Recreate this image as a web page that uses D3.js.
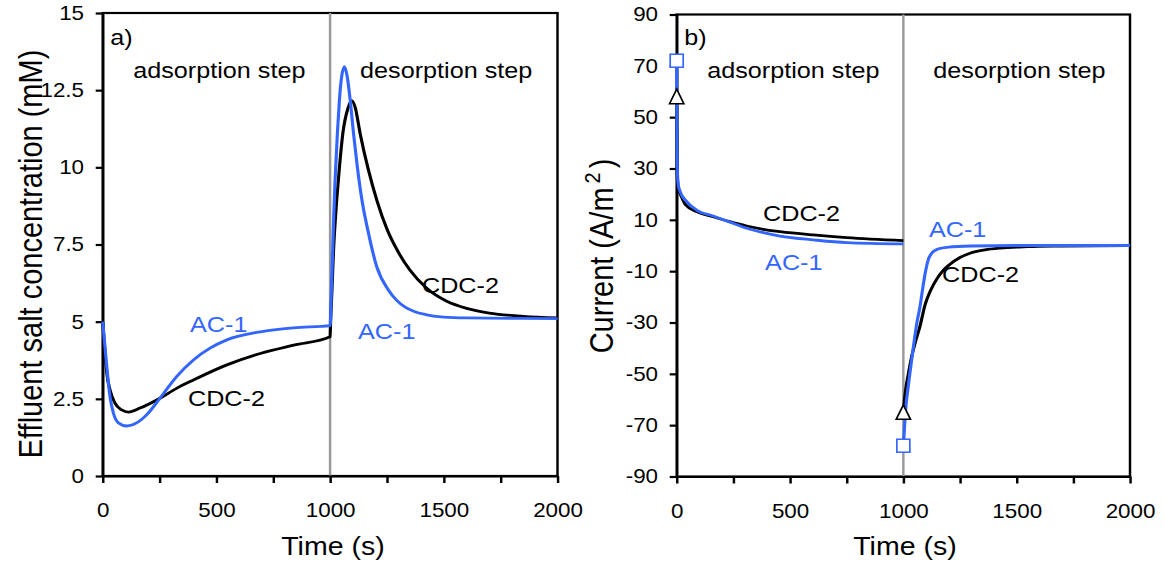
<!DOCTYPE html>
<html>
<head>
<meta charset="utf-8">
<script src="https://cdn.jsdelivr.net/npm/d3@7"></script>
<style>
  html, body { margin: 0; padding: 0; background: #fff; }
  svg { display: block; }
  text { font-family: "Liberation Sans", Arial, sans-serif; fill: #000; }
</style>
</head>
<body>
<svg id="chart"></svg>
<script>
// ---- data (time in s) ----
var timeTicks = [0, 250, 500, 750, 1000, 1250, 1500, 1750, 2000];
var concTicks = [0, 2.5, 5, 7.5, 10, 12.5, 15];
var currentTicks = [-90, -70, -50, -30, -10, 10, 30, 50, 70, 90];

// a) effluent salt concentration (mM)
var concAC1 = [[0, 5.0], [10, 4.2], [18, 3.54], [32, 2.57], [47, 2.04], [69, 1.72], [105, 1.62],
  [149, 1.72], [193, 1.98], [252, 2.52], [325, 3.22], [399, 3.76], [472, 4.14], [546, 4.41],
  [693, 4.67], [840, 4.80], [1000, 4.87], [1004, 5.6], [1010, 7.0], [1016, 8.4], [1022, 9.6],
  [1032, 11.1], [1041, 12.18], [1050, 12.9], [1063, 13.26], [1075, 12.95], [1088, 12.2],
  [1103, 11.1], [1120, 10.0], [1140, 8.94], [1169, 7.86], [1205, 6.78], [1257, 6.02],
  [1293, 5.69], [1330, 5.47], [1370, 5.33], [1420, 5.23], [1500, 5.15], [1600, 5.12], [2000, 5.1]];
var concCDC2 = [[0, 5.0], [10, 4.0], [18, 3.33], [32, 2.79], [54, 2.36], [84, 2.14], [113, 2.07],
  [164, 2.2], [252, 2.52], [325, 2.84], [399, 3.11], [546, 3.6], [693, 3.97], [840, 4.24],
  [1000, 4.51], [1002, 4.95], [1008, 6.0], [1015, 7.3], [1022, 8.2], [1029, 8.94], [1041, 10.0],
  [1056, 11.1], [1078, 11.9], [1095, 12.16], [1110, 11.95], [1132, 11.1], [1169, 9.9],
  [1207, 8.9], [1250, 8.0], [1300, 7.25], [1350, 6.68], [1425, 6.08], [1513, 5.66], [1600, 5.43],
  [1700, 5.28], [1850, 5.17], [2000, 5.12]];

// b) current (A/m2), adsorption and desorption steps
var curAdsAC1 = [[0, 72], [0.5, 55], [1.5, 38], [3, 29], [7, 23.6], [15, 21], [44, 17.1], [88, 13.8],
  [161, 11.5], [235, 9.1], [309, 6.7], [382, 5.0], [456, 3.7], [603, 2.2], [750, 1.1], [1000, 0.6]];
var curAdsCDC2 = [[0, 58], [0.5, 45], [1.5, 33], [3, 26], [7.4, 22.3], [21, 19], [40, 15.8], [88, 13.2],
  [161, 11.2], [235, 9.3], [309, 7.6], [382, 6.3], [456, 5.4], [603, 4.1], [750, 3.05], [1000, 1.9]];
var curDesAC1 = [[1000, -78], [1005, -71], [1010, -64], [1020, -56], [1030, -49], [1045, -39],
  [1060, -30], [1073, -24], [1085, -17], [1098, -10], [1110, -5.5], [1125, -3], [1150, -1.5],
  [1200, -0.6], [1300, -0.2], [1500, 0], [2000, 0]];
var curDesCDC2 = [[1000, -65], [1005, -60], [1012, -55], [1020, -51], [1035, -44], [1055, -37],
  [1073, -31.6], [1096, -23], [1120, -17.5], [1148, -13], [1175, -9.8], [1206, -7.3], [1250, -4.7],
  [1294, -3.0], [1360, -1.7], [1427, -1.0], [1550, -0.45], [1700, -0.2], [2000, 0]];

// first points of each step (markers)
var startAC1 = [[0, 72], [1000, -78]];
var startCDC2 = [[0, 58], [1000, -65]];

// ---- layout ----
var W = 1164, H = 568, SX = 1.12;   // picture is slightly stretched horizontally
var BLUE = '#3366ff', GRAY = '#999999';

var svg = d3.select('#chart')
  .attr('width', W).attr('height', H)
  .attr('viewBox', '0 0 ' + (W / SX) + ' ' + H)
  .attr('preserveAspectRatio', 'none');

var line = function(x, y) {
  return d3.line()
    .x(function(d) { return x(d[0]); })
    .y(function(d) { return y(d[1]); })
    .curve(d3.curveMonotoneX);
};

var drawPanel = function(opt) {
  var x = d3.scaleLinear().domain([0, 2000]).range([opt.left / SX, opt.right / SX]),
    y = d3.scaleLinear().domain(opt.yDomain).range([opt.bottom, opt.top]),
    g = svg.append('g');

  // frame
  g.append('rect')
    .attr('x', x(0)).attr('y', y(opt.yDomain[1]))
    .attr('width', x(2000) - x(0)).attr('height', y(opt.yDomain[0]) - y(opt.yDomain[1]))
    .attr('fill', 'none').attr('stroke', '#000').attr('stroke-width', 2.2);

  // step boundary
  g.append('line')
    .attr('x1', x(1000)).attr('x2', x(1000))
    .attr('y1', y(opt.yDomain[1])).attr('y2', y(opt.yDomain[0]))
    .attr('stroke', GRAY).attr('stroke-width', 2.2);

  // axes
  var xAxis = d3.axisBottom(x)
      .tickValues(timeTicks)
      .tickFormat(function(d) { return d % 500 === 0 ? d : ''; })
      .tickSizeInner(7).tickSizeOuter(0).tickPadding(20),
    yAxis = d3.axisLeft(y)
      .tickValues(opt.yTicks)
      .tickFormat(function(d) { return d; })
      .tickSizeInner(6.25).tickSizeOuter(0).tickPadding(10.4);

  var gx = g.append('g')
    .attr('transform', 'translate(0,' + y(opt.yDomain[0]) + ')')
    .call(xAxis);
  var gy = g.append('g')
    .attr('transform', 'translate(' + x(0) + ',0)')
    .call(yAxis);
  [gx, gy].forEach(function(a) {
    a.attr('font-size', null).attr('font-family', null);
    a.selectAll('path, line').attr('stroke', '#000').attr('stroke-width', 2.2);
    a.selectAll('text').style('font-size', '20px');
  });

  // curves
  opt.series.forEach(function(s) {
    g.append('path')
      .datum(s.data)
      .attr('fill', 'none')
      .attr('stroke', s.color)
      .attr('stroke-width', 2.8)
      .attr('stroke-linejoin', 'round')
      .attr('d', line(x, y));
  });

  // axis titles
  g.append('text')
    .attr('x', opt.xTitleX / SX).attr('y', 555)
    .attr('text-anchor', 'middle')
    .style('font-size', '25.5px')
    .text('Time (s)');

  // panel letter and step names
  g.append('text').attr('x', (opt.left + 7.5) / SX).attr('y', 45)
    .style('font-size', '22.5px').text(opt.letter);
  g.append('text').attr('x', (opt.left + 30.5) / SX).attr('y', 78)
    .style('font-size', '22.5px').text('adsorption step');
  g.append('text').attr('x', x(1000) + 30 / SX).attr('y', 78)
    .style('font-size', '22.5px').text('desorption step');

  // curve labels, placed in data coordinates
  opt.labels.forEach(function(l) {
    g.append('text')
      .attr('x', x(l.t)).attr('y', y(l.v))
      .style('font-size', '22.5px')
      .style('fill', l.color)
      .text(l.text);
  });

  return { x: x, y: y, g: g };
};

// ---- panel a ----
var a = drawPanel({
  left: 102.7, right: 557.5, top: 13, bottom: 476,
  yDomain: [0, 15], yTicks: concTicks, letter: 'a)', xTitleX: 333,
  series: [
    { data: concCDC2, color: '#000' },
    { data: concAC1, color: BLUE }
  ],
  labels: [
    { t: 384, v: 4.67, text: 'AC-1', color: BLUE },
    { t: 375, v: 2.27, text: 'CDC-2', color: '#000' },
    { t: 1123, v: 4.44, text: 'AC-1', color: BLUE },
    { t: 1404, v: 5.93, text: 'CDC-2', color: '#000' }
  ]
});

a.g.append('text')
  .attr('transform', 'translate(' + (42 / SX) + ',254) rotate(-90)')
  .attr('text-anchor', 'middle')
  .style('font-size', '29px')
  .text('Effluent salt concentration (mM)');

// ---- panel b ----
var b = drawPanel({
  left: 676.7, right: 1130, top: 14.5, bottom: 476.5,
  yDomain: [-90, 90], yTicks: currentTicks, letter: 'b)', xTitleX: 905,
  series: [
    { data: curAdsCDC2, color: '#000' },
    { data: curDesCDC2, color: '#000' },
    { data: curAdsAC1, color: BLUE },
    { data: curDesAC1, color: BLUE }
  ],
  labels: [
    { t: 381, v: 9.56, text: 'CDC-2', color: '#000' },
    { t: 390, v: -9.5, text: 'AC-1', color: BLUE },
    { t: 1113, v: 3.3, text: 'AC-1', color: BLUE },
    { t: 1171, v: -14.2, text: 'CDC-2', color: '#000' }
  ]
});

var yt = b.g.append('text')
  .attr('transform', 'translate(' + (613 / SX) + ',256) rotate(-90)')
  .attr('text-anchor', 'middle')
  .style('font-size', '29px');
yt.append('tspan').text('Current (A/m');
yt.append('tspan').attr('dx', 4).attr('dy', -12).style('font-size', '20px').text('2');
yt.append('tspan').attr('dx', 4).attr('dy', 12).text(')');

// markers at the first point of each step
b.g.selectAll('.sq')
  .data(startAC1)
  .enter().append('rect')
  .attr('class', 'sq')
  .attr('x', function(d) { return b.x(d[0]) - 5.8; })
  .attr('y', function(d) { return b.y(d[1]) - 6.5; })
  .attr('width', 11.6).attr('height', 13)
  .attr('fill', '#fff').attr('stroke', BLUE).attr('stroke-width', 1.5);

b.g.selectAll('.tri')
  .data(startCDC2)
  .enter().append('path')
  .attr('class', 'tri')
  .attr('d', function(d) {
    var cx = b.x(d[0]), cy = b.y(d[1]);
    return 'M' + cx + ',' + (cy - 7.5) + 'L' + (cx + 6.4) + ',' + (cy + 7) + 'L' + (cx - 6.4) + ',' + (cy + 7) + 'Z';
  })
  .attr('fill', '#fff').attr('stroke', '#000').attr('stroke-width', 1.5);
</script>
</body>
</html>
